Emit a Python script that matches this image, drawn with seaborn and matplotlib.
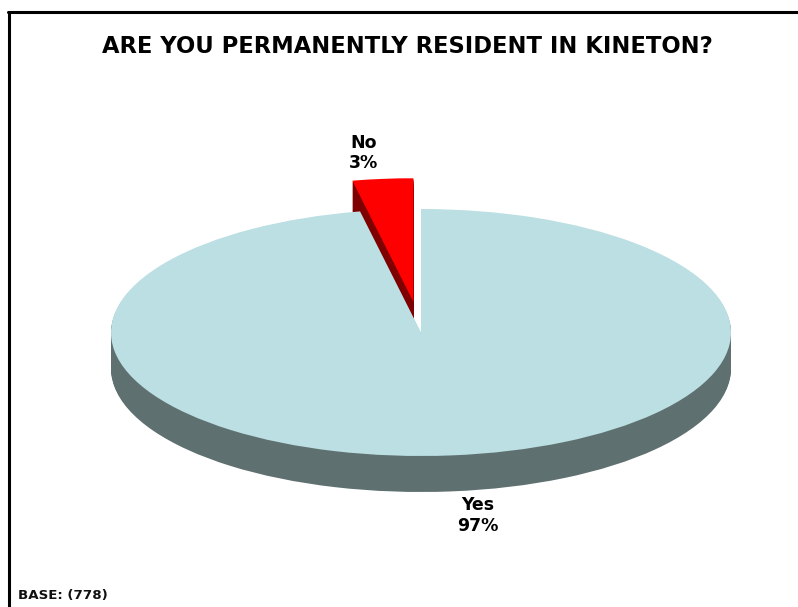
import matplotlib.pyplot as plt
from matplotlib.lines import Line2D
import seaborn as sns

categories = ["No", "Yes"]
values = [3.15, 96.85]
explode = [0.25, 0]
top_colors = ["#FF0000", "#BBDFE2"]
side_colors = ["#7F0000", "#5F7070"]

W, H = 798, 607
CX, CY = 421, 332.5
RX, RY = 310, 123.5
DEPTH = 36

sns.set_theme(style="white")
plt.rcParams["font.family"] = ["DejaVu Sans"]

fig = plt.figure(figsize=(W / 100, H / 100), dpi=100)

# whole figure axes, scaled so a unit pie comes out as the ellipse
ax = fig.add_axes([0, 0, 1, 1])


def draw_layer(colors, dy=0.0):
    ax.pie(values, explode=explode, colors=colors, startangle=90, center=(0, -dy),
           wedgeprops={"linewidth": 0})


# side walls, drawn as stacked copies going upward
for px in range(DEPTH, 0, -1):
    draw_layer(side_colors, px / RY)

# Yes top covers the red wall, then both tops
draw_layer(top_colors)

ax.set_aspect("auto")
ax.set_xlim(-CX / RX, (W - CX) / RX)
ax.set_ylim((CY - H) / RY, CY / RY)
ax.axis("off")

fig.text(407.5 / W, 1 - 46.5 / H, "ARE YOU PERMANENTLY RESIDENT IN KINETON?", ha="center", va="center",
         fontsize=16.3, fontweight="bold", color="black")

fig.text(364 / W, 1 - 153 / H, f"{categories[0]}\n{values[0]:.0f}%", ha="center", va="center",
         fontsize=12.5, fontweight="bold", color="black", linespacing=1.2)
fig.text(478 / W, 1 - 515.5 / H, f"{categories[1]}\n{values[1]:.0f}%", ha="center", va="center",
         fontsize=12.5, fontweight="bold", color="black", linespacing=1.2)
fig.text(18 / W, 1 - 596 / H, "BASE: (778)", ha="left", va="center",
         fontsize=9.6, fontweight="bold", color="#111111")

# page border, left and top only
fig.add_artist(Line2D([8.5 / W, 8.5 / W], [0, 1 - 11.5 / H], color="black", linewidth=2.2))
fig.add_artist(Line2D([7.5 / W, 1], [1 - 11.5 / H, 1 - 11.5 / H], color="black", linewidth=2.2))

fig.savefig("out.png", dpi=100)
